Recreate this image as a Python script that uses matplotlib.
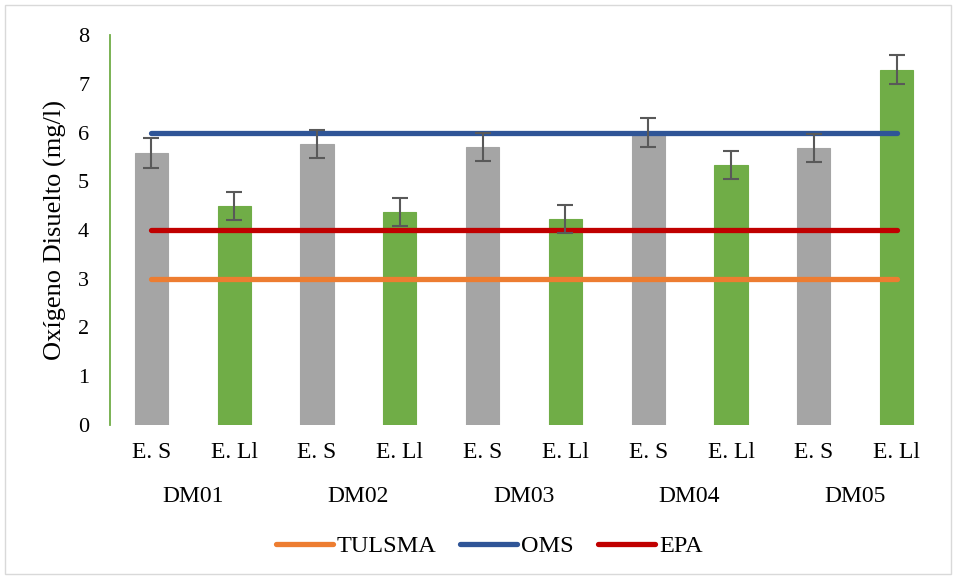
import numpy as np
import matplotlib.pyplot as plt
import matplotlib.transforms as mtrans
from matplotlib.patches import Rectangle

plt.rcParams['font.family'] = ['Liberation Serif', 'DejaVu Serif']

# data
sites = ['DM01', 'DM02', 'DM03', 'DM04', 'DM05']
stations = ['E. S', 'E. Ll']
od_es = [5.58, 5.77, 5.70, 6.00, 5.68]
od_ell = [4.49, 4.37, 4.23, 5.34, 7.29]
err_es = [0.30, 0.29, 0.29, 0.29, 0.29]
err_ell = [0.29, 0.29, 0.29, 0.29, 0.29]
limits = {'TULSMA': 3, 'OMS': 6, 'EPA': 4}
limit_colors = {'TULSMA': '#ED7D31', 'OMS': '#2F5597', 'EPA': '#C00000'}

# interleave E. S / E. Ll bars
vals = [v for pair in zip(od_es, od_ell) for v in pair]
errs = [e for pair in zip(err_es, err_ell) for e in pair]
colors = ['#A5A5A5', '#70AD47'] * len(sites)
labels = stations * len(sites)
x = np.arange(len(vals))

fig = plt.figure(figsize=(9.56, 5.79), dpi=100)
fig.patches.append(Rectangle((0.005, 0.008), 0.99, 0.984, transform=fig.transFigure,
                             fill=False, edgecolor='#D9D9D9', lw=1))
ax = fig.add_axes([110 / 956, 1 - 425 / 579, 828 / 956, 390 / 579])

ax.bar(x, vals, width=0.4, color=colors, edgecolor=colors, lw=0.8, zorder=2)

# reference lines across the bars
for name, val in limits.items():
    ax.plot([x[0], x[-1]], [val, val], color=limit_colors[name], lw=3.8,
            solid_capstyle='round', label=name, zorder=3)

ax.errorbar(x, vals, yerr=errs, fmt='none', ecolor='#595959', elinewidth=1.5,
            capsize=5.5, capthick=1.5, zorder=4)

ax.set_xlim(-0.5, len(vals) - 0.5)
ax.set_ylim(0, 8)
ax.set_yticks(range(0, 9))
ax.tick_params(axis='y', length=0, labelsize=16, pad=15)
ax.set_xticks([])
for s in ['top', 'right', 'bottom']:
    ax.spines[s].set_visible(False)
ax.spines['left'].set_color('#70AD47')
ax.spines['left'].set_linewidth(1.3)
ax.set_ylabel('Oxígeno Disuelto (mg/l)', fontsize=19, labelpad=8)

# two-level category labels
trans = mtrans.blended_transform_factory(ax.transData, ax.transAxes)
for xi, lab in zip(x, labels):
    ax.text(xi, -0.07, lab, transform=trans, ha='center', va='center', fontsize=17)
for i, site in enumerate(sites):
    ax.text(2 * i + 0.5, -0.183, site, transform=trans, ha='center', va='center', fontsize=17)

fig.legend(loc='center', bbox_to_anchor=(489 / 956, 1 - 546 / 579), ncol=3, frameon=False,
           fontsize=17.5, handlelength=2.35, handletextpad=0.15, columnspacing=1.0)

fig.savefig('out.png', dpi=100)
